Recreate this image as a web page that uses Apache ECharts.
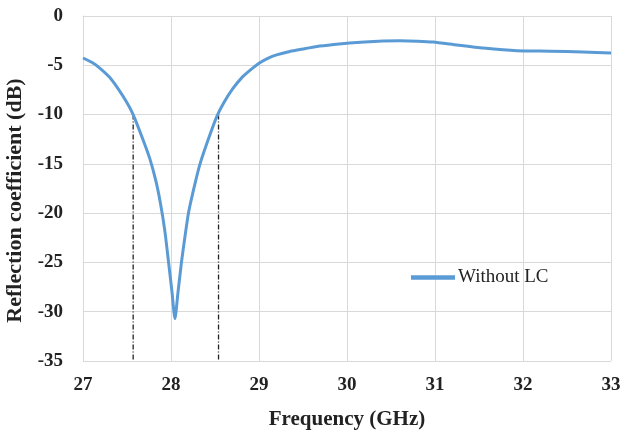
<!DOCTYPE html>
<html>
<head>
<meta charset="utf-8">
<script src="https://cdn.jsdelivr.net/npm/echarts@6/dist/echarts.min.js"></script>
<style>html,body{margin:0;padding:0;background:#fff;}#c{width:622px;height:432px;}</style>
</head>
<body>
<div id="c"></div>
<script>
var freq = [27.00, 27.10, 27.19, 27.30, 27.40, 27.50, 27.57, 27.68, 27.76, 27.83, 27.88, 27.93, 27.97, 28.01, 28.045, 28.08, 28.12, 28.16, 28.20, 28.27, 28.33, 28.42, 28.52, 28.60, 28.70, 28.80, 28.90, 29.00, 29.10, 29.20, 29.35, 29.50, 29.66, 29.85, 30.03, 30.20, 30.41, 30.60, 30.80, 30.98, 31.25, 31.55, 31.93, 32.31, 32.68, 33.00];
var s11 = [-4.26, -4.7, -5.28, -6.2, -7.4, -8.8, -10.0, -12.5, -14.5, -16.8, -19.0, -21.8, -24.8, -27.9, -30.7, -28.0, -24.9, -22.3, -19.9, -17.1, -15.0, -12.6, -10.2, -8.8, -7.4, -6.3, -5.5, -4.8, -4.3, -3.95, -3.6, -3.35, -3.1, -2.9, -2.74, -2.63, -2.54, -2.51, -2.55, -2.64, -2.94, -3.25, -3.52, -3.57, -3.65, -3.75];
var bandFreq = [27.57, 28.54];
var bandLevel = -10;
var seriesName = 'Without LC';

var font = '"Liberation Serif", "Times New Roman", serif';
var mainData = freq.map(function (f, i) { return [f, s11[i]]; });
var series = [{
  name: seriesName,
  type: 'line',
  data: mainData,
  smooth: 0.2,
  showSymbol: false,
  lineStyle: { color: '#5B9BD5', width: 3 },
  itemStyle: { color: '#5B9BD5' },
  z: 3
}];
bandFreq.forEach(function (f) {
  series.push({
    type: 'line',
    data: [[f, bandLevel], [f, -35]],
    showSymbol: false,
    silent: true,
    lineStyle: { color: '#222', width: 1.3, type: [5, 2, 1, 2] },
    z: 2
  });
});

var chart = echarts.init(document.getElementById('c'), null, { renderer: 'canvas' });
chart.setOption({
  animation: false,
  backgroundColor: '#fff',
  grid: { left: 83, right: 11, top: 16, bottom: 71, containLabel: false, outerBoundsMode: 'none' },
  legend: {
    data: [seriesName],
    left: 406, top: 263,
    itemWidth: 44, itemHeight: 14, itemGap: 4,
    icon: 'path://M0,0 L10,0 L10,1 L0,1 Z',
    textStyle: { fontFamily: font, fontSize: 19, color: '#222', padding: [0, 0, 0, -2] }
  },
  xAxis: {
    type: 'value', min: 27, max: 33, interval: 1,
    name: 'Frequency (GHz)', nameLocation: 'middle', nameGap: 48,
    nameTextStyle: { fontFamily: font, fontSize: 21, fontWeight: 'bold', color: '#222' },
    axisLine: { show: true, lineStyle: { color: '#d9d9d9', width: 1 } },
    axisTick: { show: false },
    axisLabel: { fontFamily: font, fontSize: 19, fontWeight: 'bold', color: '#222', margin: 15 },
    splitLine: { show: true, lineStyle: { color: '#d9d9d9', width: 1 } }
  },
  yAxis: {
    type: 'value', min: -35, max: 0, interval: 5,
    name: 'Reflection coefficient (dB)', nameLocation: 'middle', nameGap: 50, nameRotate: 90,
    nameTextStyle: { fontFamily: font, fontSize: 22, fontWeight: 'bold', color: '#222', padding: [0, 24, 0, 0] },
    axisLine: { show: true, lineStyle: { color: '#d9d9d9', width: 1 } },
    axisTick: { show: false },
    axisLabel: { fontFamily: font, fontSize: 19, fontWeight: 'bold', color: '#222', margin: 20 },
    splitLine: { show: true, lineStyle: { color: '#d9d9d9', width: 1 } }
  },
  series: series
});
</script>
</body>
</html>
